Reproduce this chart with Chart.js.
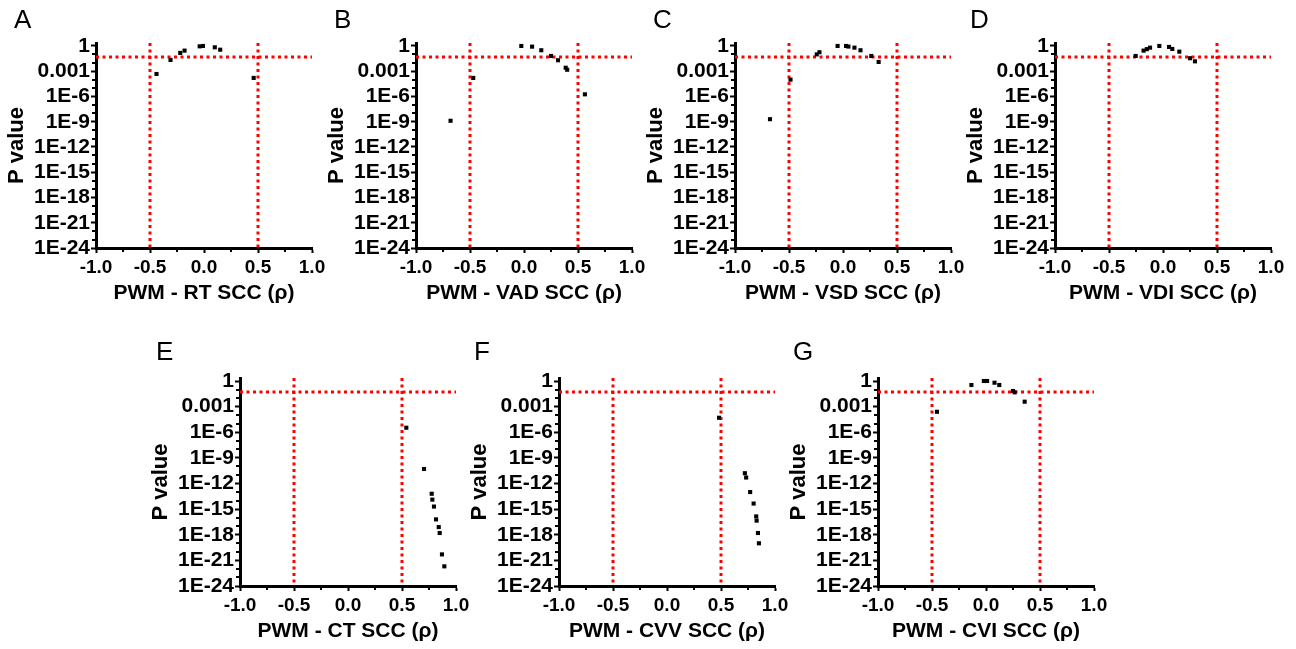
<!DOCTYPE html>
<html>
<head>
<meta charset="utf-8">
<script src="https://cdn.jsdelivr.net/npm/chart.js@4.4.0/dist/chart.umd.min.js"></script>
<style>
body{margin:0;background:#fff;width:1296px;height:649px;overflow:hidden;position:relative}
canvas{position:absolute}
.lettre{position:absolute;font-family:"Liberation Sans",Arial,sans-serif;font-size:26px;line-height:26px;color:#000}
</style>
</head>
<body>
<script>
// valeurs (rho, p)
var rtRho = [-0.44, -0.31, -0.22, -0.18, -0.04, -0.01, 0.10, 0.15, 0.46]
var rtP = [4.7e-4, 0.022, 0.15, 0.28, 0.9, 1.0, 0.69, 0.36, 1.6e-4]
var vadRho = [-0.68, -0.47, -0.025, 0.075, 0.16, 0.25, 0.315, 0.386, 0.40, 0.564]
var vadP = [1.3e-9, 1.6e-4, 1.0, 0.83, 0.31, 0.065, 0.02, 2.6e-3, 1.5e-3, 1.8e-6]
var vsdRho = [-0.676, -0.486, -0.243, -0.218, -0.05, 0.028, 0.05, 0.106, 0.162, 0.262, 0.33]
var vsdP = [2e-9, 1e-4, 0.10, 0.18, 1.0, 1.0, 0.85, 0.63, 0.31, 0.065, 0.0126]
var vdiRho = [-0.253, -0.18, -0.15, -0.12, -0.034, 0.056, 0.086, 0.151, 0.25, 0.296]
var vdiP = [0.065, 0.28, 0.42, 0.63, 1.0, 0.76, 0.44, 0.21, 0.035, 0.015]
var ctRho = [0.54, 0.704, 0.775, 0.781, 0.796, 0.815, 0.84, 0.849, 0.87, 0.892]
var ctP = [3.4e-6, 5e-11, 6.3e-14, 1.3e-14, 2e-15, 6.3e-17, 7.9e-18, 1.6e-18, 5e-21, 2e-22]
var cvvRho = [0.482, 0.721, 0.733, 0.77, 0.802, 0.826, 0.83, 0.842, 0.851]
var cvvP = [5e-5, 1.6e-11, 5e-12, 1e-13, 4.5e-15, 1.4e-16, 4.5e-17, 1.6e-18, 1e-19]
var cviRho = [-0.454, -0.135, -0.02, 0.01, 0.079, 0.123, 0.25, 0.265, 0.358]
var cviP = [2.5e-4, 0.34, 1.0, 1.0, 0.63, 0.34, 0.068, 0.047, 3.8e-3]

var pTicks = [1, 1e-3, 1e-6, 1e-9, 1e-12, 1e-15, 1e-18, 1e-21, 1e-24]
var pLabels = ["1", "0.001", "1E-6", "1E-9", "1E-12", "1E-15", "1E-18", "1E-21", "1E-24"]
var rhoTicks = [-1, -0.5, 0, 0.5, 1]
var rhoMinor = [-0.75, -0.25, 0.25, 0.75]
var seuilRho = [-0.5, 0.5]
var seuilP = 0.05

var police = "'Liberation Sans', Arial, sans-serif"
var yMax = 2.25

var panneaux = [
	{lettre: "A", titre: "PWM - RT SCC (\u03c1)", rho: rtRho, p: rtP, ax: 96, haut: 43, h: 205, lx: 14, ly: 6},
	{lettre: "B", titre: "PWM - VAD SCC (\u03c1)", rho: vadRho, p: vadP, ax: 416, haut: 43, h: 205, lx: 334, ly: 6},
	{lettre: "C", titre: "PWM - VSD SCC (\u03c1)", rho: vsdRho, p: vsdP, ax: 735, haut: 43, h: 205, lx: 653, ly: 6},
	{lettre: "D", titre: "PWM - VDI SCC (\u03c1)", rho: vdiRho, p: vdiP, ax: 1055, haut: 43, h: 205, lx: 970, ly: 6},
	{lettre: "E", titre: "PWM - CT SCC (\u03c1)", rho: ctRho, p: ctP, ax: 240, haut: 378, h: 208, lx: 156, ly: 338},
	{lettre: "F", titre: "PWM - CVV SCC (\u03c1)", rho: cvvRho, p: cvvP, ax: 559, haut: 378, h: 208, lx: 474, ly: 338},
	{lettre: "G", titre: "PWM - CVI SCC (\u03c1)", rho: cviRho, p: cviP, ax: 878, haut: 378, h: 208, lx: 793, ly: 338}
]

// petits traits entre les graduations
var petitsTraits = {
	id: "petitsTraits",
	afterDraw: function(chart){
		var ctx = chart.ctx
		var sx = chart.scales.x
		var sy = chart.scales.y
		var zone = chart.chartArea
		ctx.save()
		ctx.strokeStyle = "#000"
		ctx.lineWidth = 2
		for(var k=1;k<24;k++){
			if(k%3==0) continue
			var py = Math.round(sy.getPixelForValue(Math.pow(10,-k)))
			ctx.beginPath()
			ctx.moveTo(zone.left-4, py)
			ctx.lineTo(zone.left, py)
			ctx.stroke()
		}
		for(var i=0;i<rhoMinor.length;i++){
			var px = Math.round(sx.getPixelForValue(rhoMinor[i]))
			ctx.beginPath()
			ctx.moveTo(px, zone.bottom)
			ctx.lineTo(px, zone.bottom+4)
			ctx.stroke()
		}
		ctx.restore()
	}
}

function ligneRouge(pts){
	return {data: pts, showLine: true, borderColor: "#ff0000", borderWidth: 3,
		borderDash: [3,3.5], pointRadius: 0, order: 2}
}

function panneau(d){
	var gauche = 92, haut = 14, droite = 20, bas = 58
	var c = document.createElement("canvas")
	c.width = gauche + 216 + droite
	c.height = haut + d.h + bas
	c.style.left = (d.ax - gauche) + "px"
	c.style.top = (d.haut - haut) + "px"
	document.body.appendChild(c)

	var l = document.createElement("div")
	l.className = "lettre"
	l.innerHTML = d.lettre
	l.style.left = d.lx + "px"
	l.style.top = d.ly + "px"
	document.body.appendChild(l)

	var points = []
	for(var i=0;i<d.rho.length;i++){
		points.push({x: d.rho[i], y: d.p[i]})
	}
	var jeux = [{data: points, pointStyle: "rect", pointRadius: 2.9, backgroundColor: "#000",
		borderWidth: 0, order: 1}]
	for(var j=0;j<seuilRho.length;j++){
		jeux.push(ligneRouge([{x: seuilRho[j], y: yMax}, {x: seuilRho[j], y: 1e-24}]))
	}
	jeux.push(ligneRouge([{x: -1, y: seuilP}, {x: 1, y: seuilP}]))

	new Chart(c, {type: "scatter",
		data: {datasets: jeux},
		options: {
			responsive: false, animation: false, events: [],
			layout: {padding: {top: haut, right: droite, left: 0, bottom: 0}},
			plugins: {legend: {display: false}, tooltip: {enabled: false}},
			scales: {
				x: {type: "linear", min: -1, max: 1,
					afterBuildTicks: function(s){ s.ticks = rhoTicks.map(function(v){ return {value: v} }) },
					afterFit: function(s){ s.height = bas },
					border: {color: "#000", width: 3},
					grid: {drawOnChartArea: false, drawTicks: true, tickLength: 5, tickWidth: 2, tickColor: "#000"},
					ticks: {autoSkip: false, maxRotation: 0, padding: 3, color: "#000",
						font: {family: police, size: 19, weight: "bold"},
						callback: function(v){ return v.toFixed(1) }},
					title: {display: true, text: d.titre, color: "#000", padding: {top: 0, bottom: 0},
						font: {family: police, size: 21, weight: "bold"}}
				},
				y: {type: "logarithmic", min: 1e-24, max: yMax,
					afterBuildTicks: function(s){ s.ticks = pTicks.map(function(v){ return {value: v} }) },
					afterFit: function(s){ s.width = gauche },
					border: {color: "#000", width: 3},
					grid: {drawOnChartArea: false, drawTicks: true, tickLength: 5, tickWidth: 2, tickColor: "#000"},
					ticks: {autoSkip: false, padding: 1, color: "#000",
						font: {family: police, size: 21, weight: "bold"},
						callback: function(v){ return pLabels[pTicks.indexOf(v)] }},
					title: {display: true, text: "P value", color: "#000", padding: {top: 0, bottom: 0},
						font: {family: police, size: 22, weight: "bold"}}
				}
			}
		},
		plugins: [petitsTraits]
	})
}

for(var i=0;i<panneaux.length;i++){
	panneau(panneaux[i])
}
</script>
</body>
</html>
